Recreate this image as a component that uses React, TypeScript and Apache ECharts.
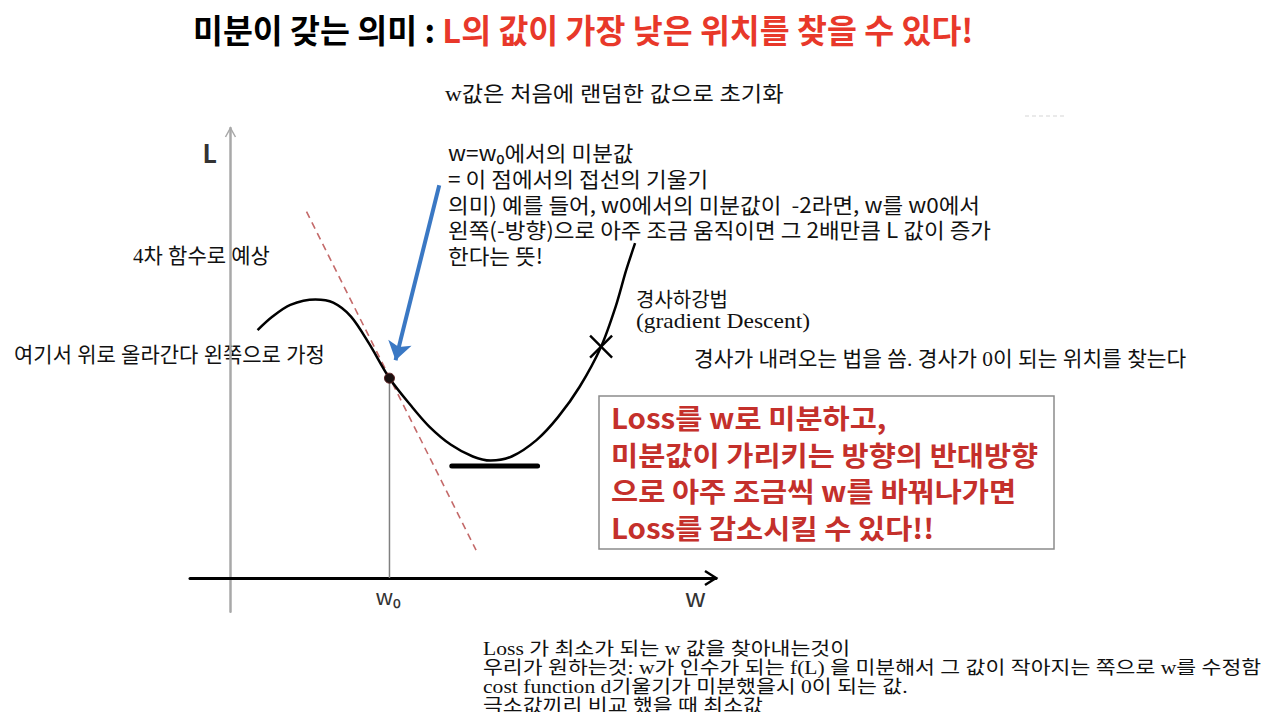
import React, { useEffect, useRef } from 'react';
import * as echarts from 'echarts';

// ---- data (w: horizontal axis units, L: vertical axis units) ----
const wRange = [-1, 12];
const LRange = [-0.75, 10];
const curveW = [0.67, 1.04, 1.48, 2.1, 2.54, 2.98, 3.42, 3.93, 4.48, 4.92, 5.45, 5.99, 6.43, 6.95, 7.57, 8.1, 8.63, 9.16, 9.52, 9.78, 10.0];
const curveL = [5.51, 5.81, 6.07, 6.19, 6.12, 5.81, 5.22, 4.44, 3.81, 3.36, 2.96, 2.7, 2.61, 2.7, 3.07, 3.58, 4.25, 5.14, 6.03, 6.84, 7.44];
const w0 = 3.93;
const L0 = 4.44;
const tangentW = [1.88, 6.07];
const tangentL = [8.14, 0.62];
const minLineW = [5.47, 7.59];
const minLineL = 2.49;
const crossPoint = [9.16, 5.14];
const arrowFrom = [5.16, 8.73];
const arrowTo = [4.08, 4.84];

// ---- texts ----
const titleBlack = '미분이 갖는 의미 : ';
const titleRed = 'L의 값이 가장 낮은 위치를 찾을 수 있다!';
const initNote = 'w값은 처음에 랜덤한 값으로 초기화';
const derivNote = [
  'w=w₀에서의 미분값',
  '= 이 점에서의 접선의 기울기',
  '의미) 예를 들어, w0에서의 미분값이  -2라면, w를 w0에서',
  '왼쪽(-방향)으로 아주 조금 움직이면 그 2배만큼 L 값이 증가',
  '한다는 뜻!',
];
const quarticNote = '4차 함수로 예상';
const assumeNote = '여기서 위로 올라간다 왼쪽으로 가정';
const gdNote = ['경사하강법', '(gradient Descent)'];
const slopeNote = '경사가 내려오는 법을 씀. 경사가 0이 되는 위치를 찾는다';
const boxNote = [
  'Loss를 w로 미분하고,',
  '미분값이 가리키는 방향의 반대방향',
  '으로 아주 조금씩 w를 바꿔나가면',
  'Loss를 감소시킬 수 있다!!',
];
const bottomNote = [
  'Loss 가 최소가 되는 w 값을 찾아내는것이',
  '우리가 원하는것: w가 인수가 되는 f(L) 을 미분해서 그 값이 작아지는 쪽으로 w를 수정함',
  'cost function d기울기가 미분했을시 0이 되는 값.',
  '극소값끼리 비교 했을 때 최소값',
];
const axisNameL = 'L';
const axisNameW = 'w';
const axisNameW0 = 'w₀';

const SANS = "'Noto Sans CJK KR', 'Noto Sans', sans-serif";
const SERIF = "'Liberation Serif', 'DejaVu Serif', 'Noto Sans CJK KR', serif";

export default function App() {
  const ref = useRef<HTMLDivElement>(null);
  useEffect(() => {
    document.body.style.margin = '0';
    if (!ref.current) return;
    const chart = echarts.init(ref.current, undefined, { renderer: 'svg' });
    const curve = curveW.map((w, i) => [w, curveL[i]]);
    chart.setOption({
      animation: false,
      backgroundColor: '#ffffff',
      grid: { left: 190, top: 128, width: 526, height: 483.75 },
      xAxis: {
        type: 'value', min: wRange[0], max: wRange[1],
        axisLine: { show: true, onZero: true, lineStyle: { color: '#000', width: 3 } },
        axisTick: { show: false }, axisLabel: { show: false }, splitLine: { show: false },
      },
      yAxis: {
        type: 'value', min: LRange[0], max: LRange[1],
        axisLine: { show: true, onZero: true, lineStyle: { color: '#a8a8a8', width: 2.5 } },
        axisTick: { show: false }, axisLabel: { show: false }, splitLine: { show: false },
      },
      series: [
        {
          type: 'line', data: tangentW.map((w, i) => [w, tangentL[i]]), symbol: 'none',
          lineStyle: { color: '#c46a6a', width: 1.6, type: [7, 5] }, z: 2,
        },
        {
          type: 'line', data: [[w0, 0], [w0, L0]], symbol: 'none',
          lineStyle: { color: '#808080', width: 1.5 }, z: 2,
        },
        {
          type: 'line', data: curve, smooth: 0.3, symbol: 'none',
          lineStyle: { color: '#000', width: 2.5 }, z: 3,
        },
        {
          type: 'line', data: minLineW.map((w) => [w, minLineL]), symbol: 'none',
          lineStyle: { color: '#000', width: 5, cap: 'round' }, z: 3,
        },
        {
          type: 'scatter', data: [[w0, L0]], symbolSize: 10,
          itemStyle: { color: '#1a1010', borderColor: '#5a2020', borderWidth: 1, opacity: 1 }, z: 5,
        },
        {
          type: 'scatter', data: [crossPoint], symbol: 'path://M0,0L20,20M20,0L0,20', symbolSize: 22,
          itemStyle: { color: 'none', borderColor: '#000', borderWidth: 2.4, opacity: 1 }, z: 5,
        },
        {
          type: 'lines', coordinateSystem: 'cartesian2d', data: [{ coords: [arrowFrom, arrowTo] }],
          symbol: ['none', 'arrow'], symbolSize: [12, 18],
          lineStyle: { color: '#3a78c4', width: 4, opacity: 1, curveness: 0 }, z: 6,
        },
      ],
    });

    const p = (v: number[]) => chart.convertToPixel({ gridIndex: 0 }, v) as number[];
    const xEnd = p([wRange[1], 0]);
    const yTop = p([0, LRange[1]]);
    const w0px = p([w0, 0]);

    const txt = (x: number, y: number, text: string, style: any, extra: any = {}, va = 'middle') => ({
      type: 'text', x, y, silent: true, ...extra,
      style: { text, align: 'left', verticalAlign: va, ...style },
    });

    chart.setOption({
      graphic: [
        { type: 'polyline', silent: true, shape: { points: [[xEnd[0] - 11, xEnd[1] - 7], [xEnd[0], xEnd[1]], [xEnd[0] - 11, xEnd[1] + 7]] }, style: { stroke: '#000', lineWidth: 2.5, fill: 'none' } },
        { type: 'polyline', silent: true, shape: { points: [[yTop[0] - 5, yTop[1] + 9], [yTop[0], yTop[1]], [yTop[0] + 5, yTop[1] + 9]] }, style: { stroke: '#a8a8a8', lineWidth: 1.5, fill: 'none' } },
        txt(yTop[0] - 28, yTop[1] + 24, axisNameL, { fontSize: 25, fontFamily: SANS, fill: '#333', fontWeight: 'bold' }),
        txt(xEnd[0] - 31, xEnd[1] + 17, axisNameW, { fontSize: 26, fontFamily: SANS, fill: '#333' }),
        txt(w0px[0] - 14, w0px[1] + 17, axisNameW0, { fontSize: 22, fontFamily: SANS, fill: '#333' }),
        // title
        txt(193, 28, `{a|${titleBlack}}{b|${titleRed}}`, {
          rich: {
            a: { fontSize: 32.5, fontWeight: 'bold', fontFamily: SANS, fill: '#000', color: '#000' },
            b: { fontSize: 32.5, fontWeight: 'bold', fontFamily: SANS, fill: '#e8382a', color: '#e8382a' },
          },
        }),
        txt(445, 94, initNote, { fontSize: 21, fontFamily: SERIF, fill: '#111' }, { scaleX: 1.105 }),
        txt(448, 139, derivNote.join('\n'), { fontSize: 21, lineHeight: 25.8, fontFamily: SANS, fill: '#111' }, { scaleX: 1.071 }, 'top'),
        txt(133, 256, quarticNote, { fontSize: 21, fontFamily: SERIF, fill: '#111' }),
        txt(14, 355, assumeNote, { fontSize: 21, fontFamily: SERIF, fill: '#111' }),
        txt(636, 300, gdNote[0], { fontSize: 20, fontFamily: SERIF, fill: '#111' }),
        txt(636, 321, gdNote[1], { fontSize: 21, fontFamily: SERIF, fill: '#111' }, { scaleX: 1.118 }),
        txt(694, 359, slopeNote, { fontSize: 21, fontFamily: SERIF, fill: '#111' }, { scaleX: 1.02 }),
        { type: 'rect', silent: true, shape: { x: 599, y: 396, width: 455, height: 153 }, style: { fill: '#fff', stroke: '#8c8c8c', lineWidth: 1.5 } },
        txt(611, 398.6, boxNote.join('\n'), { fontSize: 27.5, lineHeight: 36.7, fontWeight: 'bold', fontFamily: SANS, fill: '#c4302b' }, { scaleX: 1.073 }, 'top'),
        txt(483, 639.6, bottomNote.join('\n'), { fontSize: 18.5, lineHeight: 18.8, fontFamily: SERIF, fill: '#111' }, { scaleX: 1.168 }, 'top'),
        { type: 'line', silent: true, shape: { x1: 1025, y1: 116, x2: 1064, y2: 116 }, style: { stroke: '#e4e4e4', lineWidth: 1.5, lineDash: [4, 3] } },
      ],
    });
    return () => chart.dispose();
  }, []);
  return <div ref={ref} style={{ width: 1266, height: 712 }} />;
}
